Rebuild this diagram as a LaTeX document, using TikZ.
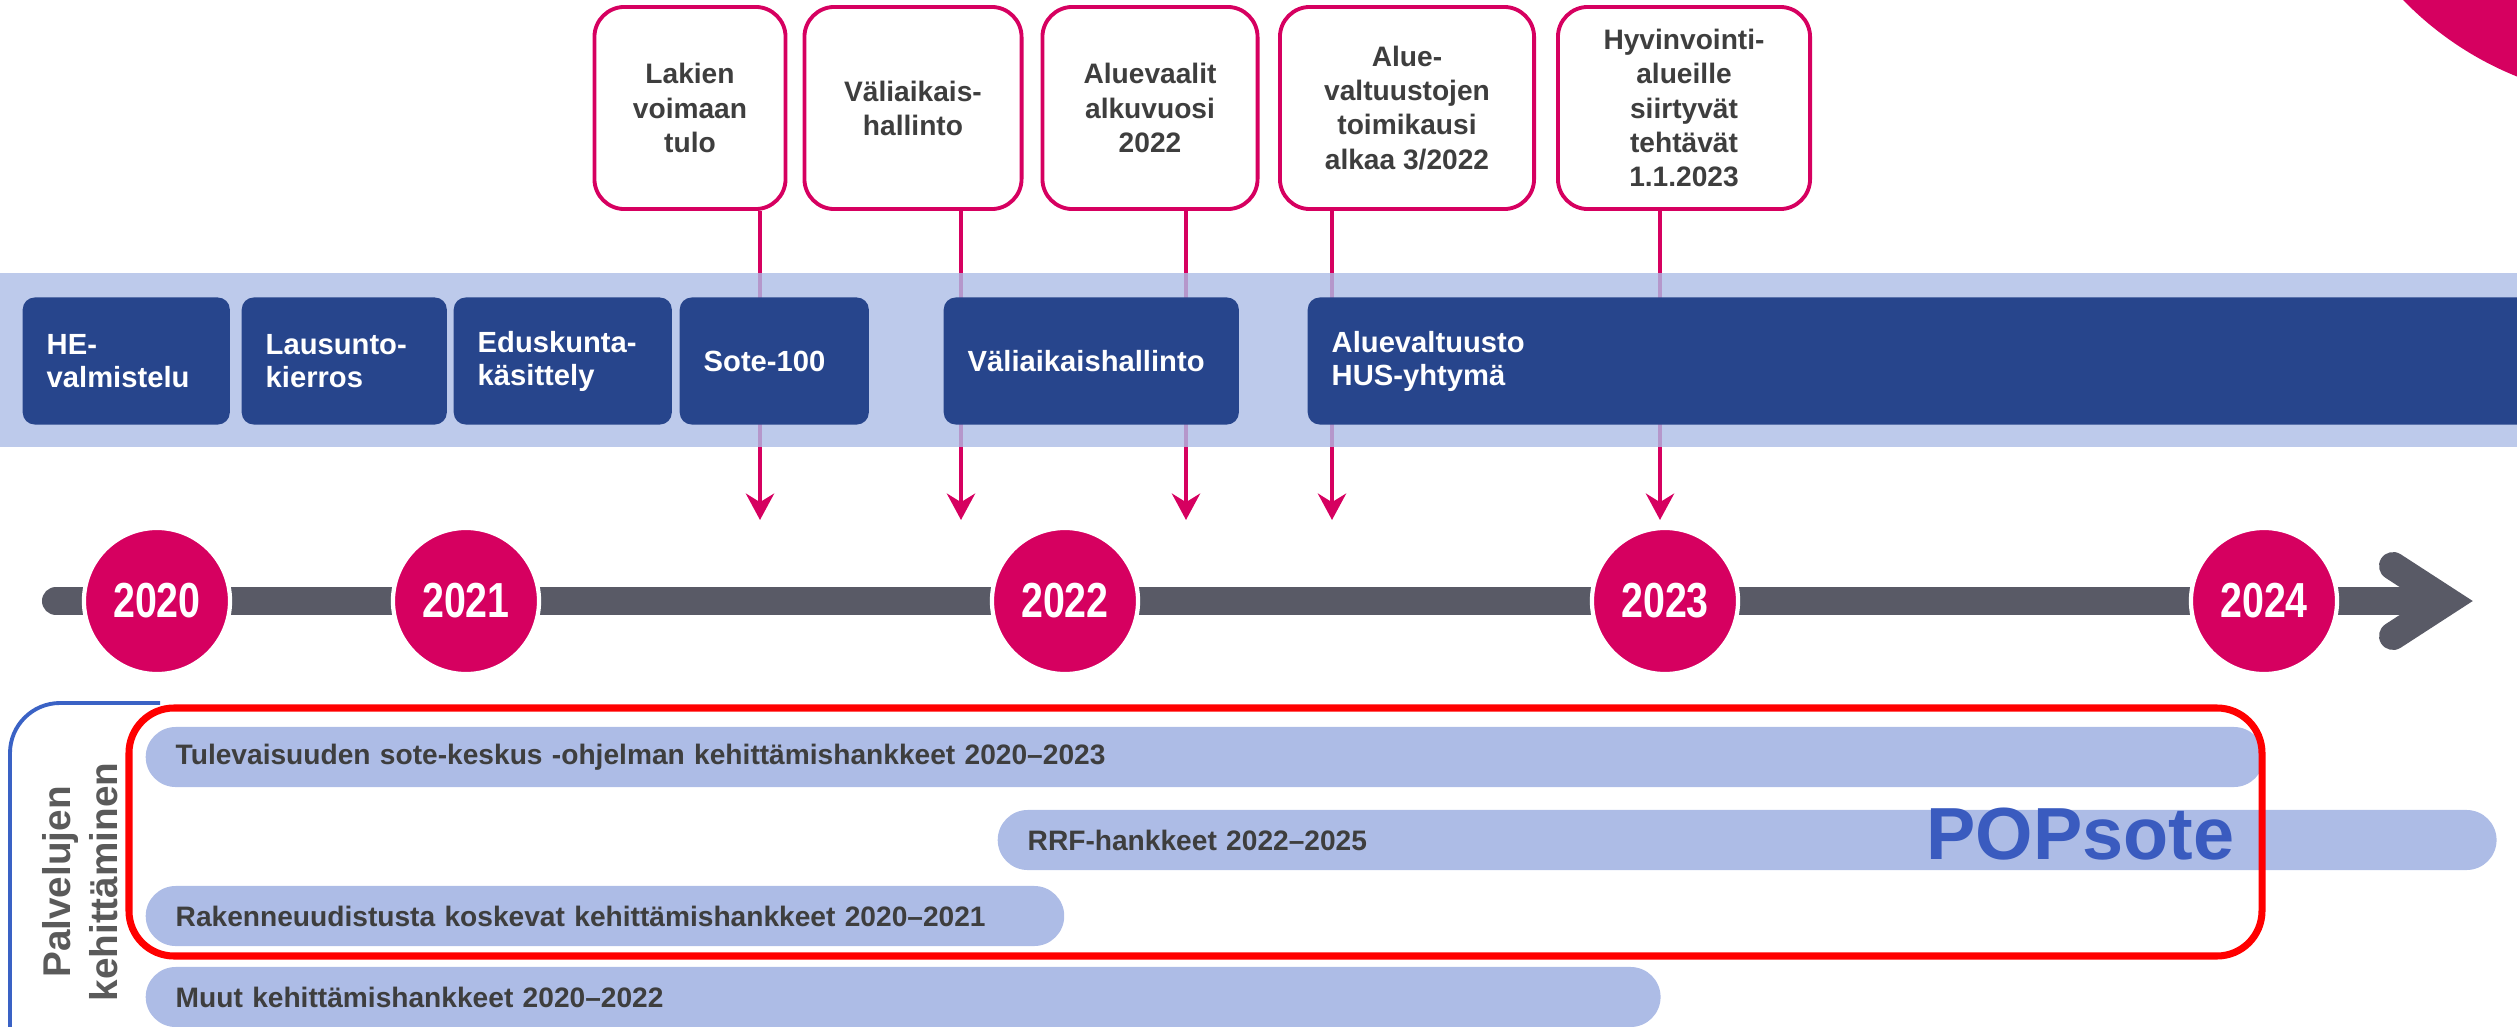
\documentclass[tikz,border=0pt]{standalone}
\usepackage{fontspec}
\setmainfont{Liberation Sans}
\newfontfamily\yearfont[FakeStretch=0.8]{Liberation Sans}
\usetikzlibrary{arrows.meta}

\definecolor{hpink}{RGB}{214,0,96}
\definecolor{hnavy}{RGB}{39,69,140}
\definecolor{hband}{RGB}{173,189,230}
\definecolor{hbar}{RGB}{173,188,230}
\definecolor{hgrey}{RGB}{89,90,102}
\definecolor{htext}{RGB}{62,62,62}
\definecolor{hside}{RGB}{90,90,90}
\definecolor{hblue}{RGB}{58,91,191}
\definecolor{hbracket}{RGB}{58,98,197}

\tikzset{
  event/.style={draw=hpink, line width=1.1pt, fill=white, rounded corners=0.3cm,
    minimum height=2.02cm, align=center, text=htext,
    font=\bfseries\fontsize{8}{9.7}\selectfont},
  phase/.style={fill=hnavy, rounded corners=0.12cm, text=white, align=left,
    anchor=west, inner xsep=0.24cm, inner ysep=0pt, minimum height=1.27cm,
    font=\bfseries\fontsize{8.3}{9.4}\selectfont},
  year/.style={circle, fill=hpink, draw=white, line width=1.2pt,
    minimum size=1.46cm, inner sep=0pt, text=white,
    font=\yearfont\bfseries\fontsize{14}{14}\selectfont},
  project/.style={fill=hbar, rounded corners=0.3cm, minimum height=0.6cm,
    inner xsep=0.3cm, inner ysep=0pt, anchor=west, align=left, text=htext,
    font=\bfseries\fontsize{8}{9}\selectfont},
  callout/.style={draw=hpink, line width=1.4pt, -{Stealth[length=7.5pt,width=8pt]}},
  timebar/.style={draw=hgrey, line width=0.28cm, line cap=round}
}

\begin{document}
\begin{tikzpicture}[x=0.01cm, y=-0.01cm]
  \useasboundingbox (0,0) rectangle (2517,1027);
  \clip (0,0) rectangle (2517,1027);

  \fill[hpink] (2640,-230) circle (3.3cm);

  \node[event, minimum width=1.91cm] (lakien) at (690,108) {Lakien\\voimaan\\tulo};
  \node[event, minimum width=2.17cm] (valiaik) at (913,108) {Väliaikais-\\hallinto};
  \node[event, minimum width=2.15cm] (vaalit) at (1150,108) {Aluevaalit\\alkuvuosi\\2022};
  \node[event, minimum width=2.54cm] (kausi) at (1407,108) {Alue-\\valtuustojen\\toimikausi\\alkaa 3/2022};
  \node[event, minimum width=2.52cm] (siirto) at (1684,108) {Hyvinvointi-\\alueille\\siirtyvät\\tehtävät\\1.1.2023};

  \coordinate (a1) at (760,520);
  \coordinate (a2) at (961,520);
  \coordinate (a3) at (1186,520);
  \coordinate (a4) at (1332,520);
  \coordinate (a5) at (1660,520);
  \draw[callout] (lakien.south -| a1) -- (a1);
  \draw[callout] (valiaik.south -| a2) -- (a2);
  \draw[callout] (vaalit.south -| a3) -- (a3);
  \draw[callout] (kausi.south -| a4) -- (a4);
  \draw[callout] (siirto.south -| a5) -- (a5);

  \fill[hband, opacity=0.8] (0,273) rectangle (2517,447);

  \node[phase, text width=1.59cm] (he) at (22,361) {HE-\\valmistelu};
  \node[phase, text width=1.57cm] (lausunto) at (241,361) {Lausunto-\\kierros};
  \node[phase, text width=1.70cm] (edus) at (453,361) {Eduskunta-\\käsittely};
  \node[phase, text width=1.41cm] (sote) at (679,361) {Sote-100};
  \node[phase, text width=2.47cm] (valihall) at (943,361) {Väliaikaishallinto};
  \node[phase, text width=12.05cm] (valtuusto) at (1307,361) {Aluevaltuusto\\HUS-yhtymä};

  \coordinate (tl) at (56,601);
  \coordinate (tr) at (2440,601);
  \draw[timebar] (tl) -- (tr);
  \draw[timebar, line join=miter] (2393,566) -- (2447,601) -- (2393,636);

  \node[year] (y2020) at (157,601) {2020};
  \node[year] (y2021) at (466,601) {2021};
  \node[year] (y2022) at (1065,601) {2022};
  \node[year] (y2023) at (1665,601) {2023};
  \node[year] (y2024) at (2264,601) {2024};

  \draw[hbracket, line width=1.1pt, rounded corners=0.5cm] (160,703) -- (10,703) -- (10,1040);
  \node[rotate=90, align=center, text=hside, font=\bfseries\fontsize{11}{13.3}\selectfont] (palvelu) at (80,882) {Palvelujen\\kehittäminen};

  \node[project, text width=20.57cm] (tulev) at (145,757) {Tulevaisuuden sote-keskus -ohjelman kehittämishankkeet 2020–2023};
  \node[project, text width=14.38cm] (rrf) at (997,840) {RRF-hankkeet 2022–2025};
  \node[project, text width=8.58cm] (rakenne) at (145,916) {Rakenneuudistusta koskevat kehittämishankkeet 2020–2021};
  \node[project, text width=14.54cm] (muut) at (145,997) {Muut kehittämishankkeet 2020–2022};

  \draw[red, line width=2pt, rounded corners=0.45cm] (129,708) rectangle (2262,956);
  \node[anchor=base west, inner sep=0pt, text=hblue, font=\bfseries\fontsize{21}{21}\selectfont] (popsote) at (1926,859) {POPsote};
\end{tikzpicture}
\end{document}
